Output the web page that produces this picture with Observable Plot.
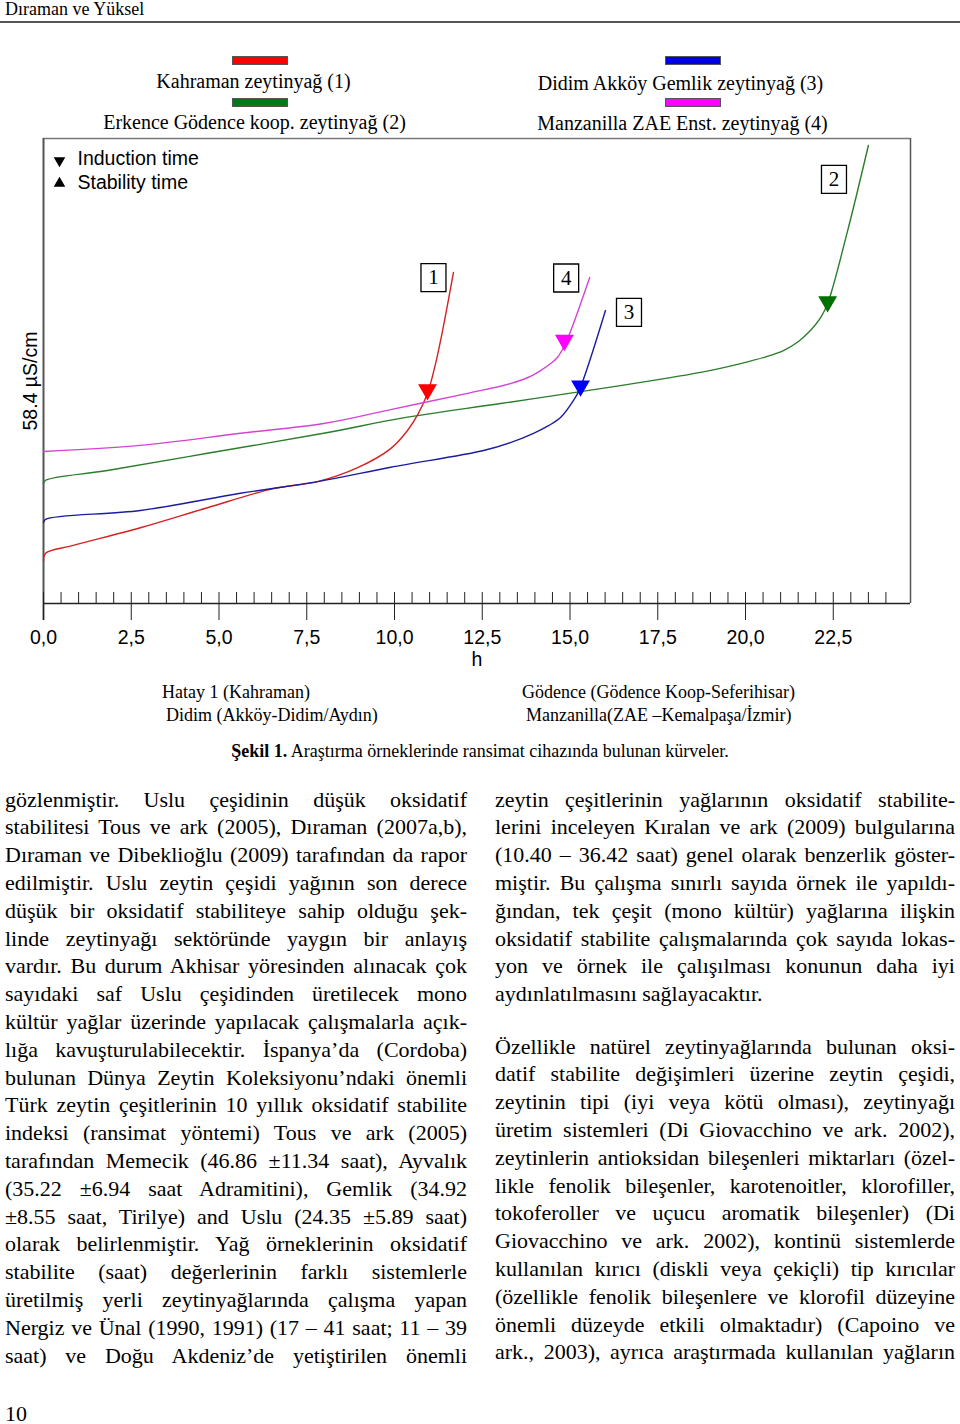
<!DOCTYPE html>
<html><head><meta charset="utf-8">
<script src="https://cdn.jsdelivr.net/npm/d3@7"></script>
<script src="https://cdn.jsdelivr.net/npm/@observablehq/plot@0.6"></script>
<style>
html,body{margin:0;padding:0;background:#fff;}
body{width:960px;height:1424px;position:relative;overflow:hidden;font-family:"Liberation Serif","Times New Roman",serif;color:#000;}
.abs{position:absolute;white-space:nowrap;}
.sw{position:absolute;width:56px;height:9px;border:1px solid #555;box-sizing:border-box;}
.col{position:absolute;font-size:22px;line-height:27.8px;}
.col div{text-align:justify;text-align-last:justify;height:27.8px;}
.col div.last{text-align-last:left;}
#chart{position:absolute;left:0;top:130px;}
#rule{position:absolute;left:0;top:21px;width:960px;height:2px;background:#555;}
</style></head><body>
<div id="rule"></div>
<div id="chart"></div>
<script>
// ---------- chart data ----------
const kahramanH = [0, 0.06, 0.85, 2.76, 4.67, 6.55, 7.81, 8.95, 9.89, 10.37, 10.68, 10.94, 11.17, 11.37, 11.68];
const kahramanV = [9.2, 10.8, 12.5, 16.3, 20.6, 24.7, 26.2, 29.2, 33.3, 37.2, 40.9, 45.2, 51.6, 58.7, 71.2];
const erkenceH = [0, 0.06, 1.82, 4.67, 7.98, 10.17, 13.02, 15.87, 18.72, 19.86, 20.6, 21.08, 21.5, 21.77, 22.14, 22.34, 22.91, 23.50];
const erkenceV = [25.8, 26.5, 28.6, 32.3, 36.6, 39.8, 43.0, 46.2, 49.7, 51.6, 53.1, 54.4, 56.3, 58.1, 61.5, 64.5, 80.2, 98.5];
const didimH = [0, 0.06, 2.76, 5.61, 7.81, 9.89, 12.54, 13.3, 13.96, 14.4, 14.73, 15.10, 15.27, 16.01];
const didimV = [17.4, 18.1, 20.0, 23.7, 26.2, 29.3, 32.9, 34.6, 36.6, 38.3, 40.0, 43.7, 46.0, 63.0];
const manzanillaH = [0, 2.76, 5.61, 7.98, 9.89, 12.08, 13.30, 13.8, 14.16, 14.45, 14.64, 14.87, 15.56];
const manzanillaV = [32.7, 34.0, 36.6, 38.7, 41.7, 45.2, 47.3, 48.6, 50.1, 51.6, 52.9, 55.9, 70.1];

const seriesNames = ["Kahraman zeytinyağ (1)", "Erkence Gödence koop. zeytinyağ (2)", "Didim Akköy Gemlik zeytinyağ (3)", "Manzanilla ZAE Enst. zeytinyağ (4)"];
const lineColors = ["#d42222", "#2b7d2b", "#1c1ca0", "#d444d4"];
const markerColors = ["#ff0000", "#007000", "#0000ff", "#ff00ff"];
const swatchColors = ["#ff0000", "#007a1a", "#0000e6", "#ff00ff"];

// induction time markers (hours, value)
const inductionH = [10.94, 22.34, 15.30, 14.84];
const inductionV = [46.0, 64.9, 46.8, 56.6];

// numbered label boxes
const boxNames = ["1", "2", "3", "4"];
const boxH = [11.11, 22.52, 16.68, 14.89];
const boxV = [70.1, 91.2, 62.6, 70.0];

const majorTicks = [0, 2.5, 5, 7.5, 10, 12.5, 15, 17.5, 20, 22.5];
const tickLabels = ["0,0", "2,5", "5,0", "7,5", "10,0", "12,5", "15,0", "17,5", "20,0", "22,5"];
const minorTicks = d3.range(0, 49).map(i => i * 0.5).filter(v => v % 2.5 !== 0);
const xLabel = "h";
const yLabel = "58.4 µS/cm";
const legendInduction = "Induction time";
const legendStability = "Stability time";

// ---------- build tables ----------
const allH = [kahramanH, erkenceH, didimH, manzanillaH];
const allV = [kahramanV, erkenceV, didimV, manzanillaV];
const lineData = [];
allH.forEach((hs, s) => hs.forEach((h, i) => lineData.push({s, h, v: allV[s][i], color: lineColors[s]})));
const markers = inductionH.map((h, i) => ({h, v: inductionV[i], color: markerColors[i]}));
const boxes = boxNames.map((n, i) => ({n, h: boxH[i], v: boxV[i]}));
const boxSymbol = {draw(ctx) { ctx.rect(-12.5, -14, 25, 28); }};

const chart = Plot.plot({
  width: 960, height: 545,
  marginTop: 8, marginBottom: 72, marginLeft: 43, marginRight: 50,
  x: {domain: [0, 24.7], axis: null},
  y: {domain: [0, 100], axis: null},
  style: {fontFamily: "'Liberation Sans', Arial, sans-serif", fontSize: "19.5px", background: "transparent", overflow: "visible"},
  marks: [
    Plot.ruleY([100], {stroke: "#777", strokeWidth: 1.5}),
    Plot.ruleX([0], {y1: -3.66, y2: 100, stroke: "#555", strokeWidth: 2}),
    Plot.ruleX([24.7], {y1: 0, y2: 100, stroke: "#555", strokeWidth: 1.5}),
    Plot.ruleY([0], {stroke: "#222", strokeWidth: 1.5}),
    Plot.ruleX(minorTicks, {y1: 0, y2: 2.37, stroke: "#222", strokeWidth: 1}),
    Plot.ruleX(majorTicks, {y1: -3.66, y2: 2.37, stroke: "#222", strokeWidth: 1}),
    Plot.text(majorTicks, {x: d => d, text: (d, i) => tickLabels[i], frameAnchor: "bottom", lineAnchor: "middle", dy: 34}),
    Plot.text([xLabel], {frameAnchor: "bottom", lineAnchor: "middle", dy: 56}),
    Plot.text([yLabel], {frameAnchor: "left", textAnchor: "middle", lineAnchor: "middle", dx: -13, dy: 10, rotate: -90}),
    Plot.line(lineData, {x: "h", y: "v", z: "s", stroke: "color", strokeWidth: 1.4, curve: "catmull-rom"}),
    Plot.dot(markers, {x: "h", y: "v", symbol: "triangle", rotate: 180, r: 7, fill: "color", stroke: "none"}),
    Plot.dot(boxes, {x: "h", y: "v", symbol: boxSymbol, r: 10, fill: "white", stroke: "black", strokeWidth: 1.3}),
    Plot.text(boxes, {x: "h", y: "v", text: "n", fontFamily: "'Liberation Serif', serif", fontSize: 21}),
    Plot.dot([0], {frameAnchor: "top-left", dx: 16, dy: 22, symbol: "triangle", rotate: 180, r: 4.3, fill: "black"}),
    Plot.dot([0], {frameAnchor: "top-left", dx: 16, dy: 45, symbol: "triangle", r: 4.3, fill: "black"}),
    Plot.text([legendInduction], {frameAnchor: "top-left", textAnchor: "start", lineAnchor: "middle", dx: 34, dy: 20}),
    Plot.text([legendStability], {frameAnchor: "top-left", textAnchor: "start", lineAnchor: "middle", dx: 34, dy: 44})
  ]
});
document.getElementById("chart").appendChild(chart);

// ---------- page text ----------
function place(text, left, baseline, fs, opts = {}) {
  const d = document.createElement("div");
  d.className = "abs";
  d.style.fontSize = fs + "px";
  d.style.lineHeight = fs + "px";
  d.style.top = (baseline - 0.8375 * fs) + "px";
  if (opts.center) { d.style.left = (left - 300) + "px"; d.style.width = "600px"; d.style.textAlign = "center"; }
  else d.style.left = left + "px";
  if (opts.html) d.innerHTML = text; else d.textContent = text;
  document.body.appendChild(d);
}
place("Dıraman ve Yüksel", 5, 15, 18);
// legend
const legendPos = [[232, 56, 253.5, 88], [232, 98, 254.5, 129], [665, 56, 680.5, 90], [665, 98, 682.5, 130]];
seriesNames.forEach((n, i) => {
  const [sx, sy, tx, ty] = legendPos[i];
  const s = document.createElement("div");
  s.className = "sw"; s.style.left = sx + "px"; s.style.top = sy + "px"; s.style.background = swatchColors[i];
  document.body.appendChild(s);
  place(n, tx, ty, 20, {center: true});
});
place("Hatay 1 (Kahraman)", 162, 698, 18);
place("Didim (Akköy-Didim/Aydın)", 166, 721, 18);
place("Gödence (Gödence Koop-Seferihisar)", 522, 698, 18);
place("Manzanilla(ZAE –Kemalpaşa/İzmir)", 526, 721, 18);
place("<b>Şekil 1.</b> Araştırma örneklerinde ransimat cihazında bulunan kürveler.", 480, 757, 18, {center: true, html: true});
place("10", 5, 1421, 22);

const leftLines = [
"gözlenmiştir. Uslu çeşidinin düşük oksidatif",
"stabilitesi Tous ve ark (2005), Dıraman (2007a,b),",
"Dıraman ve Dibeklioğlu (2009) tarafından da rapor",
"edilmiştir. Uslu zeytin çeşidi yağının son derece",
"düşük bir oksidatif stabiliteye sahip olduğu şek-",
"linde zeytinyağı sektöründe yaygın bir anlayış",
"vardır. Bu durum Akhisar yöresinden alınacak çok",
"sayıdaki saf Uslu çeşidinden üretilecek mono",
"kültür yağlar üzerinde yapılacak çalışmalarla açık-",
"lığa kavuşturulabilecektir. İspanya’da (Cordoba)",
"bulunan Dünya Zeytin Koleksiyonu’ndaki önemli",
"Türk zeytin çeşitlerinin 10 yıllık oksidatif stabilite",
"indeksi (ransimat yöntemi) Tous ve ark (2005)",
"tarafından Memecik (46.86 ±11.34 saat), Ayvalık",
"(35.22 ±6.94 saat Adramitini), Gemlik (34.92",
"±8.55 saat, Tirilye) and Uslu (24.35 ±5.89 saat)",
"olarak belirlenmiştir. Yağ örneklerinin oksidatif",
"stabilite (saat) değerlerinin farklı sistemlerle",
"üretilmiş yerli zeytinyağlarında çalışma yapan",
"Nergiz ve Ünal (1990, 1991) (17 – 41 saat; 11 – 39",
"saat) ve Doğu Akdeniz’de yetiştirilen önemli"];
const rightPara1 = [
"zeytin çeşitlerinin yağlarının oksidatif stabilite-",
"lerini inceleyen Kıralan ve ark (2009) bulgularına",
"(10.40 – 36.42 saat) genel olarak benzerlik göster-",
"miştir. Bu çalışma sınırlı sayıda örnek ile yapıldı-",
"ğından, tek çeşit (mono kültür) yağlarına ilişkin",
"oksidatif stabilite çalışmalarında çok sayıda lokas-",
"yon ve örnek ile çalışılması konunun daha iyi",
"aydınlatılmasını sağlayacaktır."];
const rightPara2 = [
"Özellikle natürel zeytinyağlarında bulunan oksi-",
"datif stabilite değişimleri üzerine zeytin çeşidi,",
"zeytinin tipi (iyi veya kötü olması), zeytinyağı",
"üretim sistemleri (Di Giovacchino ve ark. 2002),",
"zeytinlerin antioksidan bileşenleri miktarları (özel-",
"likle fenolik bileşenler, karotenoitler, klorofiller,",
"tokoferoller ve uçucu aromatik bileşenler) (Di",
"Giovacchino ve ark. 2002), kontinü sistemlerde",
"kullanılan kırıcı (diskli veya çekiçli) tip kırıcılar",
"(özellikle fenolik bileşenlere ve klorofil düzeyine",
"önemli düzeyde etkili olmaktadır) (Capoino ve",
"ark., 2003), ayrıca araştırmada kullanılan yağların"];
function column(lines, left, width, top, lastIdx) {
  const c = document.createElement("div");
  c.className = "col"; c.style.left = left + "px"; c.style.width = width + "px"; c.style.top = top + "px";
  lines.forEach((t, i) => { const d = document.createElement("div"); d.textContent = t; if (i === lastIdx) d.className = "last"; c.appendChild(d); });
  document.body.appendChild(c);
}
column(leftLines, 5, 462, 785.7, -1);
column(rightPara1, 495, 460, 785.7, rightPara1.length - 1);
column(rightPara2, 495, 460, 1054 - 21.3, -1);
</script>
</body></html>
